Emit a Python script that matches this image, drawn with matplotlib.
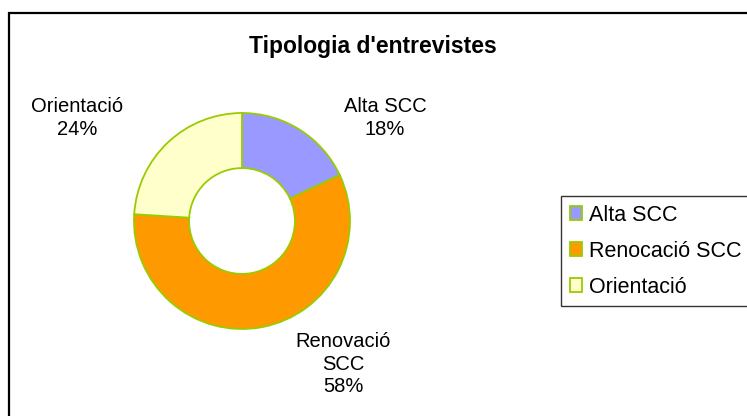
import matplotlib
matplotlib.use("Agg")
import matplotlib.pyplot as plt
from matplotlib.patches import Rectangle, Patch

categories = ["Alta SCC", "Renovació SCC", "Orientació"]
legend_labels = ["Alta SCC", "Renocació SCC", "Orientació"]
values = [18, 58, 24]
pct_labels = ["18%", "58%", "24%"]
colors = ["#9999FF", "#FF9900", "#FFFFCC"]
edge = "#99CC00"
title = "Tipologia d'entrevistes"

W, H = 747, 416
plt.rcParams['font.family'] = ['Liberation Sans', 'DejaVu Sans']
fig = plt.figure(figsize=(W / 100, H / 100), dpi=100)
fig.patch.set_facecolor("white")

def fx(px):
    return px / W

def fy(py):
    return 1 - py / H

# outer frame
fig.patches.append(Rectangle((fx(9), fy(430)), fx(760) - fx(9), fy(13) - fy(430),
                             transform=fig.transFigure, fill=False,
                             edgecolor="black", linewidth=1.6))

# pie axes: center (242,221), radius 108 px
cx, cy, r = 242, 221, 108
ax = fig.add_axes([fx(cx - r), fy(cy + r), 2 * r / W, 2 * r / H])
ax.pie(values, colors=colors, startangle=90, counterclock=False,
       wedgeprops=dict(width=0.51, edgecolor=edge, linewidth=1.3),
       radius=1.0)
ax.set_xlim(-1.0, 1.0)
ax.set_ylim(-1.0, 1.0)
ax.set_aspect('auto')
ax.axis('off')

fig.text(fx(373), fy(47), title, ha='center', va='center',
         fontsize=16.5, fontweight='bold')

fs = 14.5
fig.text(fx(385), fy(118), "Alta SCC\n" + pct_labels[0], ha='center', va='center',
         fontsize=fs, linespacing=1.25)
fig.text(fx(77), fy(118), "Orientació\n" + pct_labels[2], ha='center', va='center',
         fontsize=fs, linespacing=1.25)
fig.text(fx(343), fy(364), "Renovació\nSCC\n" + pct_labels[1], ha='center', va='center',
         fontsize=fs, linespacing=1.25)

handles = [Patch(facecolor=c, edgecolor=edge, linewidth=1.3) for c in colors]
leg = fig.legend(handles, legend_labels, loc='upper left',
                 bbox_to_anchor=(fx(561), fy(196)), bbox_transform=fig.transFigure,
                 borderaxespad=0, frameon=True, fancybox=False, fontsize=15.5,
                 handlelength=0.58, handleheight=0.58, handletextpad=0.3,
                 labelspacing=0.7, borderpad=0.4)
leg.get_frame().set_edgecolor("black")
leg.get_frame().set_linewidth(1.0)

fig.savefig("out.png", dpi=100, facecolor="white")
